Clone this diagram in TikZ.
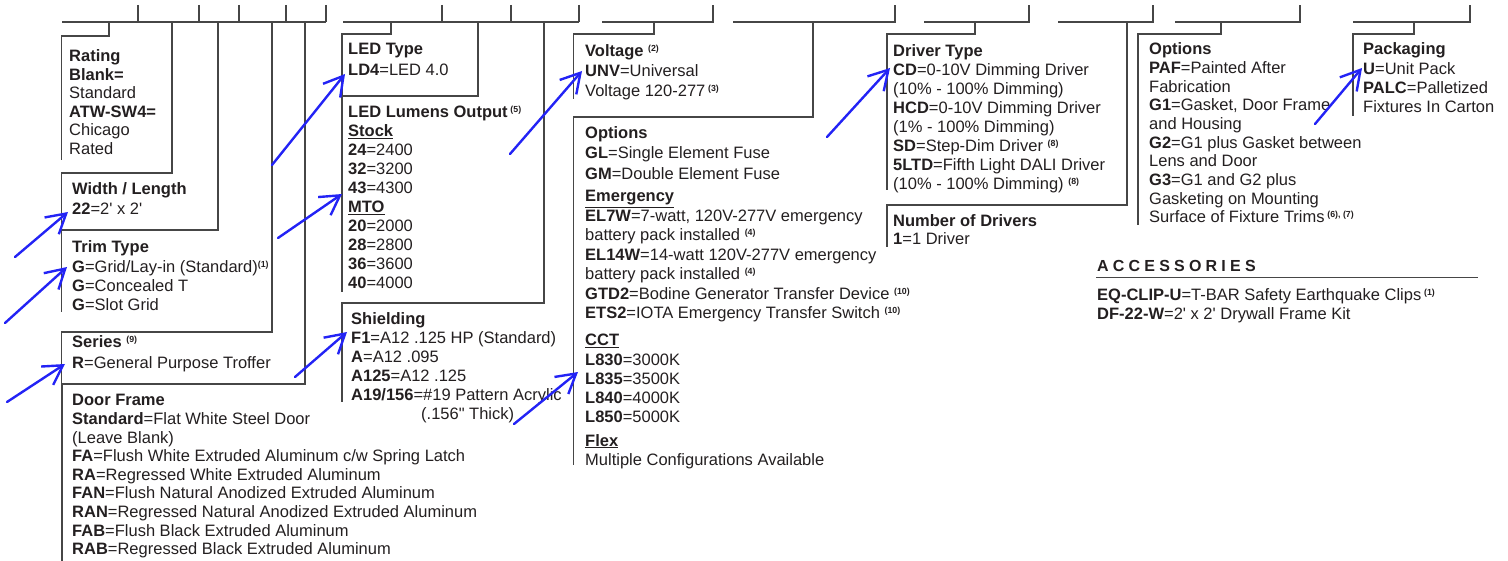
\documentclass[tikz,border=0pt]{standalone}
\usepackage{fontspec}
\setmainfont{Liberation Sans}
\usetikzlibrary{arrows.meta}
\definecolor{txtc}{RGB}{35,31,32}
\definecolor{linec}{RGB}{70,70,70}
\definecolor{arrc}{RGB}{35,35,245}
\newcommand\rw[1]{\hbox{#1}}
\newcommand\blkk[2]{\vtop{\baselineskip=#1pt\lineskiplimit=-30pt\lineskip=0pt #2}}
\newcommand\supf{\fontsize{8.8}{9}\selectfont\bfseries}
\newcommand\sups[1]{\raisebox{5pt}{\supf(#1)}}
\newcommand\uhead[1]{\underline{\textbf{#1}}}
\newcommand\sq{\textquotesingle}
\tikzset{
  txt/.style={anchor=base west, inner sep=0pt, text=txtc, font=\fontsize{16.5}{18.5}\selectfont},
  ln/.style={draw=linec, line width=1.2pt},
  barrow/.style={draw=arrc, line width=2.4pt, line cap=round, line join=round,
     -{Straight Barb[length=19pt,width=22pt]}}
}
\begin{document}
\begin{tikzpicture}[x=1pt,y=-1pt]
\useasboundingbox (0,0) rectangle (1508,561);
% ---------- top bar ----------
\draw[ln] (62,22) -- (326,22);
\foreach \x in {138,199,239,286,326} \draw[ln] (\x,5) -- (\x,22);
\draw[ln] (343,22) -- (579,22);
\foreach \x in {442,511,579} \draw[ln] (\x,5) -- (\x,22);
\draw[ln] (602,22) -- (713,22) -- (713,5);
\draw[ln] (733,22) -- (895,22) -- (895,5);
\draw[ln] (924,22) -- (1029,22) -- (1029,5);
\draw[ln] (1058,22) -- (1153,22) -- (1153,5);
\draw[ln] (1175,22) -- (1300,22) -- (1300,5);
\draw[ln] (1353,22) -- (1470,22) -- (1470,5);
% ---------- brackets ----------
\draw[ln] (109,22) -- (109,36) -- (61.5,36) -- (61.5,160);
\draw[ln] (172,22) -- (172,173) -- (61.5,173) -- (61.5,230);
\draw[ln] (218,22) -- (218,230) -- (61.5,230) -- (61.5,312);
\draw[ln] (272,22) -- (272,332) -- (61.5,332) -- (61.5,384);
\draw[ln] (305,22) -- (305,384) -- (62,384) -- (62,561);
\draw[ln] (391,22) -- (391,34) -- (342,34) -- (342,96);
\draw[ln] (478,22) -- (478,96) -- (342,96) -- (342,292);
\draw[ln] (544,22) -- (544,303) -- (342,303) -- (342,402);
\draw[ln] (654,22) -- (654,34) -- (573.5,34) -- (573.5,99);
\draw[ln] (813,22) -- (813,117) -- (573.5,117) -- (573.5,465);
\draw[ln] (975,22) -- (975,34) -- (887,34) -- (887,190);
\draw[ln] (1127,22) -- (1127,205) -- (887,205) -- (887,247);
\draw[ln] (1221,22) -- (1221,34) -- (1138,34) -- (1138,225);
\draw[ln] (1414,22) -- (1414,34) -- (1353,34) -- (1353,116);
% ---------- left column ----------
\node[txt] (rating) at (69,62) {\blkk{18.5}{%
  \rw{\textbf{Rating}}\rw{\textbf{Blank=}}\rw{Standard}\rw{\textbf{ATW-SW4=}}\rw{Chicago}\rw{Rated}}};
\node[txt] (width) at (72,195) {\blkk{20}{%
  \rw{\textbf{Width / Length}}\rw{\textbf{22}=2\sq{} x 2\sq}}};
\node[txt] (trim) at (72,253) {\blkk{19.3}{%
  \rw{\textbf{Trim Type}}\rw{\textbf{G}=Grid/Lay-in (Standard)\sups{1}}\rw{\textbf{G}=Concealed T}\rw{\textbf{G}=Slot Grid}}};
\node[txt] (series) at (72,348) {\blkk{20.5}{%
  \rw{\textbf{Series} \sups{9}}\rw{\textbf{R}=General Purpose Troffer}}};
\node[txt] (door) at (72,406) {\blkk{18.6}{%
  \rw{\textbf{Door Frame}}
  \rw{\textbf{Standard}=Flat White Steel Door}
  \rw{(Leave Blank)}
  \rw{\textbf{FA}=Flush White Extruded Aluminum c/w Spring Latch}
  \rw{\textbf{RA}=Regressed White Extruded Aluminum}
  \rw{\textbf{FAN}=Flush Natural Anodized Extruded Aluminum}
  \rw{\textbf{RAN}=Regressed Natural Anodized Extruded Aluminum}
  \rw{\textbf{FAB}=Flush Black Extruded Aluminum}
  \rw{\textbf{RAB}=Regressed Black Extruded Aluminum}}};
% ---------- LED column ----------
\node[txt] (ledtype) at (348,55) {\blkk{21}{%
  \rw{\textbf{LED Type}}\rw{\textbf{LD4}=LED 4.0}}};
\node[txt] (lumens) at (348,117.3) {\blkk{19}{%
  \rw{\textbf{LED Lumens Output}\,\sups{5}}
  \rw{\uhead{Stock}}
  \rw{\textbf{24}=2400}\rw{\textbf{32}=3200}\rw{\textbf{43}=4300}
  \rw{\uhead{MTO}}
  \rw{\textbf{20}=2000}\rw{\textbf{28}=2800}\rw{\textbf{36}=3600}\rw{\textbf{40}=4000}}};
\node[txt] (shield) at (351,325) {\blkk{19}{%
  \rw{\textbf{Shielding}}
  \rw{\textbf{F1}=A12 .125 HP (Standard)}
  \rw{\textbf{A}=A12 .095}
  \rw{\textbf{A125}=A12 .125}
  \rw{\textbf{A19/156}=\#19 Pattern Acrylic}
  \rw{\hspace*{70pt}(.156\textquotedbl{} Thick)}}};
% ---------- voltage / options column ----------
\node[txt] (voltage) at (585,57) {\blkk{19.8}{%
  \rw{\textbf{Voltage} \sups{2}}\rw{\textbf{UNV}=Universal}\rw{Voltage 120-277\,\sups{3}}}};
\node[txt] (opts) at (585,138.3) {\blkk{20.5}{%
  \rw{\textbf{Options}}\rw{\textbf{GL}=Single Element Fuse}\rw{\textbf{GM}=Double Element Fuse}}};
\node[txt] (emerg) at (585,202) {\blkk{19.5}{%
  \rw{\uhead{Emergency}}
  \rw{\textbf{EL7W}=7-watt, 120V-277V emergency}
  \rw{battery pack installed \sups{4}}
  \rw{\textbf{EL14W}=14-watt 120V-277V emergency}
  \rw{battery pack installed \sups{4}}
  \rw{\textbf{GTD2}=Bodine Generator Transfer Device \sups{10}}
  \rw{\textbf{ETS2}=IOTA Emergency Transfer Switch \sups{10}}}};
\node[txt] (cct) at (585,346) {\blkk{19.1}{%
  \rw{\uhead{CCT}}\rw{\textbf{L830}=3000K}\rw{\textbf{L835}=3500K}\rw{\textbf{L840}=4000K}\rw{\textbf{L850}=5000K}}};
\node[txt] (flex) at (585,446) {\blkk{19.7}{%
  \rw{\uhead{Flex}}\rw{Multiple Configurations Available}}};
% ---------- driver column ----------
\node[txt] (driver) at (893,57) {\blkk{19}{%
  \rw{\textbf{Driver Type}}
  \rw{\textbf{CD}=0-10V Dimming Driver}
  \rw{(10\% - 100\% Dimming)}
  \rw{\textbf{HCD}=0-10V Dimming Driver}
  \rw{(1\% - 100\% Dimming)}
  \rw{\textbf{SD}=Step-Dim Driver \sups{8}}
  \rw{\textbf{5LTD}=Fifth Light DALI Driver}
  \rw{(10\% - 100\% Dimming) \sups{8}}}};
\node[txt] (ndrv) at (893,226.7) {\blkk{17.5}{%
  \rw{\textbf{Number of Drivers}}\rw{\textbf{1}=1 Driver}}};
% ---------- options right ----------
\node[txt] (opts2) at (1149,55) {\blkk{18.63}{%
  \rw{\textbf{Options}}
  \rw{\textbf{PAF}=Painted After}
  \rw{Fabrication}
  \rw{\textbf{G1}=Gasket, Door Frame}
  \rw{and Housing}
  \rw{\textbf{G2}=G1 plus Gasket between}
  \rw{Lens and Door}
  \rw{\textbf{G3}=G1 and G2 plus}
  \rw{Gasketing on Mounting}
  \rw{Surface of Fixture Trims\,\raisebox{5pt}{\supf(6), (7)}}}};
\node[txt] (pack) at (1363,55) {\blkk{19.2}{%
  \rw{\textbf{Packaging}}\rw{\textbf{U}=Unit Pack}\rw{\textbf{PALC}=Palletized}\rw{Fixtures In Carton}}};
% ---------- accessories ----------
\node[txt, font=\fontsize{16}{18}\selectfont\bfseries] (acc) at (1097,272)
  {A\kern4.2pt C\kern4.2pt C\kern4.2pt E\kern4.2pt S\kern4.2pt S\kern4.2pt O\kern4.2pt R\kern4.2pt I\kern4.2pt E\kern4.2pt S};
\draw[ln] (1096,277.5) -- (1478,277.5);
\node[txt] (accl) at (1097,301) {\blkk{18.5}{%
  \rw{\textbf{EQ-CLIP-U}=T-BAR Safety Earthquake Clips\,\sups{1}}
  \rw{\textbf{DF-22-W}=2\sq{} x 2\sq{} Drywall Frame Kit}}};
% ---------- blue annotation arrows ----------
\draw[barrow] (272,165) -- (345,74);
\draw[barrow] (278,238) -- (342,194);
\draw[barrow] (15,257) -- (68,212);
\draw[barrow] (5,323) -- (67,267);
\draw[barrow] (7,402) -- (65,364);
\draw[barrow] (295,377) -- (347,332);
\draw[barrow] (510,154) -- (582,71);
\draw[barrow] (514,424) -- (578,372);
\draw[barrow] (827,137) -- (890,68);
\draw[barrow] (1315,124) -- (1362,68);
\end{tikzpicture}
\end{document}
